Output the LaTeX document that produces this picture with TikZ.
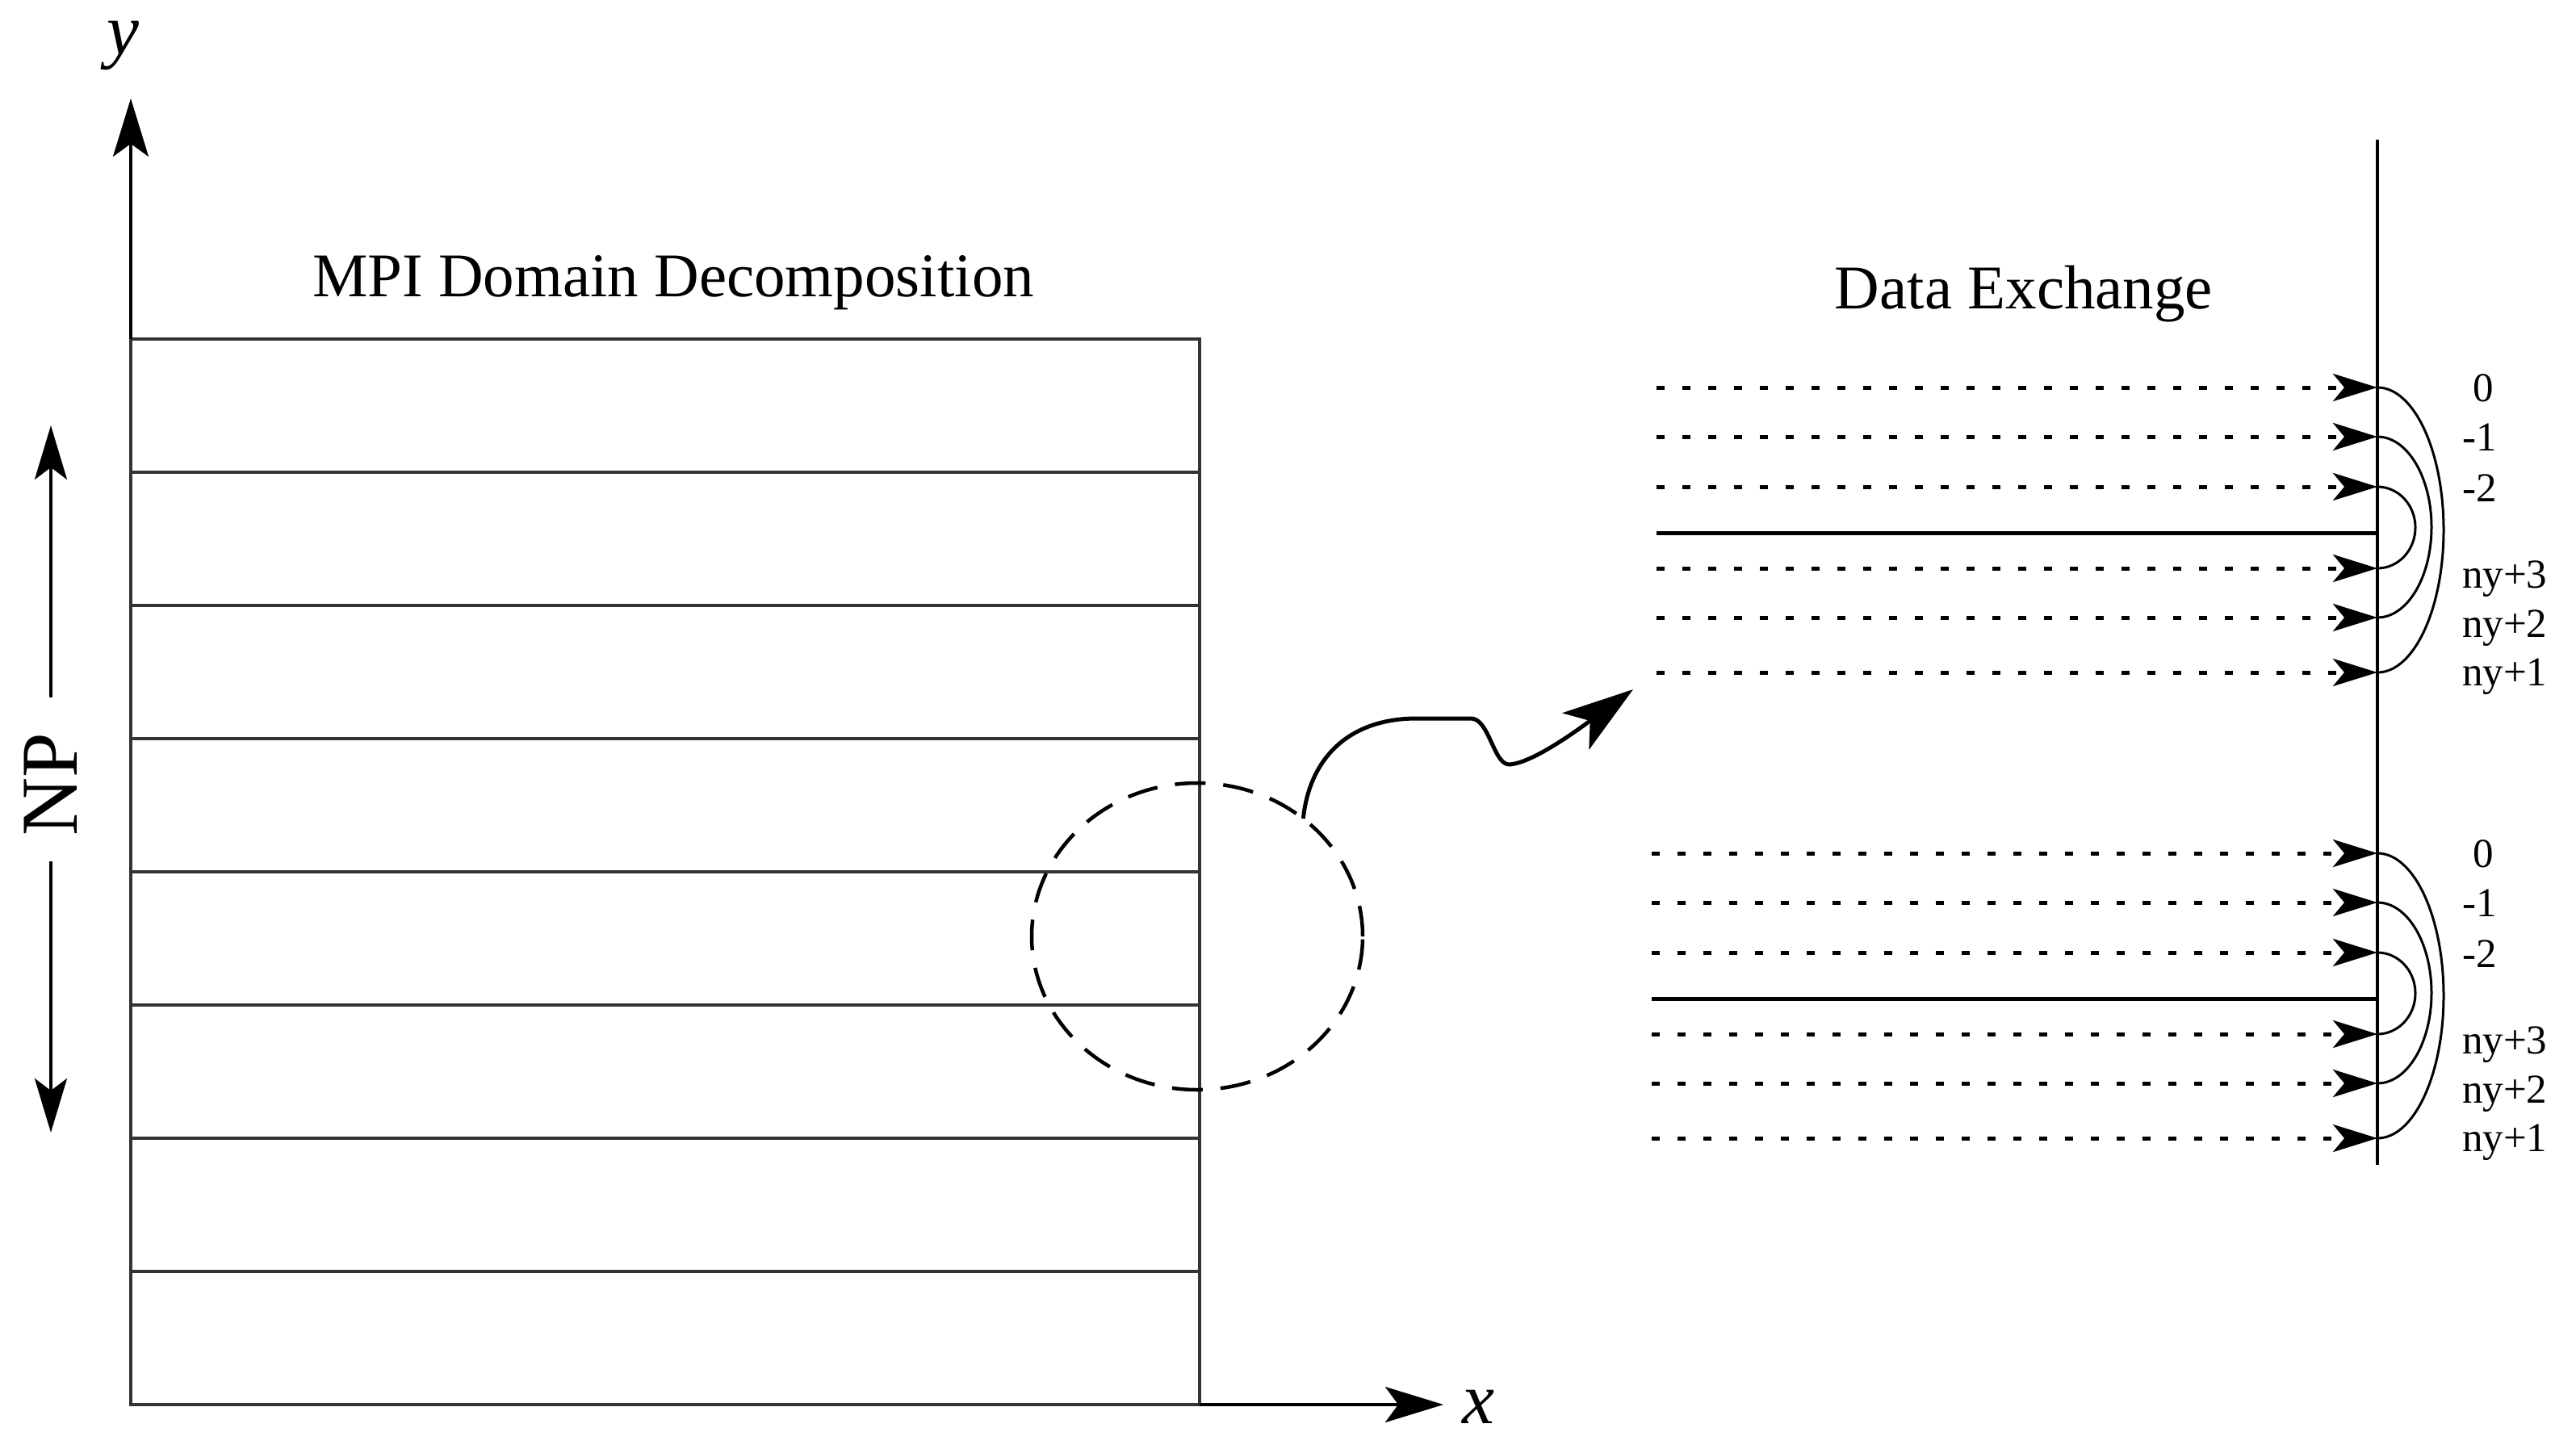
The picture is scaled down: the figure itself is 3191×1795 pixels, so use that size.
\documentclass[tikz,border=0pt]{standalone}
\usepackage{fontspec}
\setmainfont{Liberation Serif}
\usetikzlibrary{arrows.meta,shapes.geometric}
\begin{document}
\begin{tikzpicture}[x=1pt,y=-1pt,
  txt/.style={inner sep=0pt, outer sep=0pt},
  boxline/.style={line width=3.5pt, draw=black!80},
  axisarrow/.style={line width=4pt, -{Stealth[length=72pt,width=44pt,inset=16pt]}},
  nparrow/.style={line width=4pt, -{Stealth[length=67pt,width=40pt,inset=15pt]}},
  dotarrow/.style={line width=5pt, dash pattern=on 10pt off 22pt, -{Stealth[length=55pt,width=34pt,inset=14pt]}},
  solidrow/.style={line width=5pt},
  exch/.style={line width=3pt},
  zoomarrow/.style={line width=5pt, -{Stealth[length=88pt,width=56pt,inset=22pt]}},
  lbl/.style={txt, font=\fontsize{51}{51}\selectfont},
  title/.style={txt, font=\fontsize{77}{77}\selectfont, anchor=base},
]
\useasboundingbox (0,0) rectangle (3191,1795);

% ---------- left: domain decomposition ----------
\coordinate (BL) at (162,1740);
\coordinate (BR) at (1486,1740);
\coordinate (TL) at (162,420);
\coordinate (TR) at (1486,420);
\draw[boxline] (TL) rectangle (BR);
\foreach \i in {1,...,7}{
  \coordinate (sl\i) at (162,{420+165*\i});
  \coordinate (sr\i) at (1486,{420+165*\i});
  \draw[boxline] (sl\i) -- (sr\i);
}
% axes
\coordinate (ytip) at (162,122);
\coordinate (xtip) at (1788,1740);
\draw[axisarrow] (TL) -- (ytip);
\draw[axisarrow] (BR) -- (xtip);
\node[txt, anchor=base, font=\fontsize{90}{90}\selectfont\itshape] (ylab) at (152,68) {y};
\node[txt, anchor=base, font=\fontsize{90}{90}\selectfont\itshape] (xlab) at (1831,1763) {x};

\node[title] (t1) at (834,367) {MPI Domain Decomposition};

% NP arrow
\node[txt, rotate=90, font=\fontsize{100}{100}\selectfont] (np) at (63,972) {NP};
\coordinate (npa1) at (63,864);
\coordinate (npt1) at (63,527);
\coordinate (npa2) at (63,1067);
\coordinate (npt2) at (63,1403);
\draw[nparrow] (npa1) -- (npt1);
\draw[nparrow] (npa2) -- (npt2);

% zoom circle and arrow
\node[draw, ellipse, line width=4.5pt, dash pattern=on 38pt off 22pt, minimum width=410pt, minimum height=380pt, inner sep=0pt, outer sep=0pt] (zc) at (1483,1160) {};
\coordinate (zt) at (2023,854);
\draw[zoomarrow] (zc.48) .. controls (1622,940) and (1670,890) .. (1755,890) -- (1822,890)
  .. controls (1845,890) and (1850,948) .. (1870,947)
  .. controls (1900,945) and (1960,900) .. (zt);

% ---------- right: data exchange ----------
\node[title] (t2) at (2507,382) {Data Exchange};
\coordinate (vtop) at (2945,173);
\coordinate (vbot) at (2945,1443);
\draw[line width=4pt] (vtop) -- (vbot);

\foreach \g/\d/\xs in {u/0/2052, l/577/2046}{
  \foreach \r/\y in {a/480, b/541, c/603, d/704, e/765, f/833}{
    \coordinate (\g s\r) at (\xs,{\y+\d});
    \coordinate (\g e\r) at (2945,{\y+\d});
    \draw[dotarrow] (\g s\r) -- (\g e\r);
  }
  \coordinate (\g sm) at (\xs,{660+\d});
  \coordinate (\g em) at (2945,{660+\d});
  \draw[solidrow] (\g sm) -- (\g em);
  \draw[exch] (\g ea) arc[start angle=90, end angle=-90, x radius=82pt, y radius=176.5pt];
  \draw[exch] (\g eb) arc[start angle=90, end angle=-90, x radius=67pt, y radius=112pt];
  \draw[exch] (\g ec) arc[start angle=90, end angle=-90, x radius=47pt, y radius=50.5pt];
  \node[lbl, anchor=base] (\g l0) at (3076,{497+\d}) {0};
  \node[lbl, anchor=base west] (\g l1) at (3050,{558+\d}) {-1};
  \node[lbl, anchor=base west] (\g l2) at (3050,{621+\d}) {-2};
  \node[lbl, anchor=base west] (\g l3) at (3050,{728+\d}) {ny+3};
  \node[lbl, anchor=base west] (\g l4) at (3050,{789+\d}) {ny+2};
  \node[lbl, anchor=base west] (\g l5) at (3050,{849+\d}) {ny+1};
}
\end{tikzpicture}
\end{document}
